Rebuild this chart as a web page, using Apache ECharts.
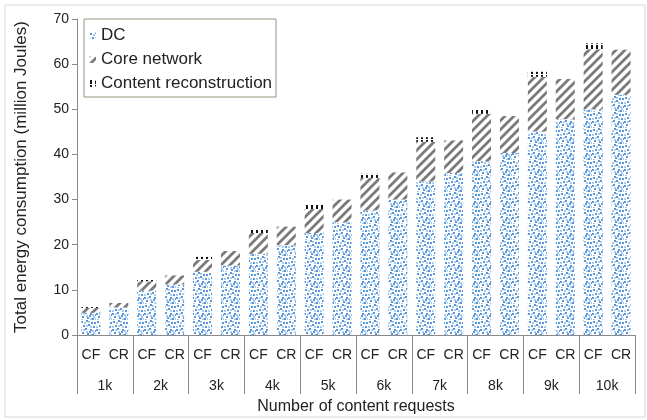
<!DOCTYPE html>
<html>
<head>
<meta charset="utf-8">
<script src="https://cdn.jsdelivr.net/npm/echarts@6/dist/echarts.min.js"></script>
<style>
  html, body { margin: 0; padding: 0; background: #fff; }
  #chart { width: 647px; height: 420px; }
</style>
</head>
<body>
<div id="chart"></div>
<script>
// Request volumes and the two schemes compared in each group
const groups = ['1k', '2k', '3k', '4k', '5k', '6k', '7k', '8k', '9k', '10k'];
const schemes = ['CF', 'CR'];

// Energy per component (million Joules)
const dcCF = [4.9, 9.8, 14.0, 18.0, 22.6, 27.6, 34.0, 38.5, 45.1, 50.0];
const dcCR = [6.1, 11.2, 15.4, 19.9, 25.0, 30.0, 35.9, 40.3, 47.8, 53.2];
const coreCF = [1.1, 2.1, 2.6, 4.6, 5.3, 7.2, 8.8, 10.5, 12.1, 13.3];
const coreCR = [1.0, 2.0, 3.2, 4.1, 5.0, 6.0, 7.2, 8.2, 8.9, 10.0];
const reconCF = [0.2, 0.4, 0.7, 0.9, 1.0, 0.9, 1.0, 1.0, 1.1, 1.3];
const reconCR = [0, 0, 0, 0, 0, 0, 0, 0, 0, 0];

const yTicks = { min: 0, max: 70, step: 10 };

// Interleave CF / CR per group
function interleave(a, b) {
  const out = [];
  for (let i = 0; i < a.length; i++) { out.push(a[i], b[i]); }
  return out;
}
const barLabels = groups.flatMap(() => schemes);

// Fill textures
function makeTile(w, h, draw) {
  const c = document.createElement('canvas');
  c.width = w; c.height = h;
  const ctx = c.getContext('2d');
  ctx.fillStyle = '#ffffff';
  ctx.fillRect(0, 0, w, h);
  draw(ctx);
  return c;
}

const dotTile = makeTile(16, 16, ctx => {
  const dark = [[1,1],[6,0],[11,2],[3,5],[8,4],[13,6],[0,9],[5,8],[10,9],[15,10],[2,12],[7,13],[12,14],[9,11],[14,2]];
  const light = [[4,2],[12,10],[6,11],[1,15],[10,6],[15,14],[8,1],[3,9],[13,12],[6,5],[0,6],[10,14]];
  ctx.fillStyle = 'rgba(140,185,232,0.75)';
  light.forEach(p => ctx.fillRect(p[0], p[1], 2, 2));
  ctx.fillStyle = 'rgba(70,140,218,0.9)';
  dark.forEach(p => ctx.fillRect(p[0], p[1], 2, 2));
});

const hatchTile = makeTile(9, 9, ctx => {
  ctx.strokeStyle = '#7a7a7a';
  ctx.lineWidth = 2.8;
  ctx.beginPath();
  ctx.moveTo(-1, 10); ctx.lineTo(10, -1);
  ctx.moveTo(-2, 2); ctx.lineTo(2, -2);
  ctx.moveTo(7, 11); ctx.lineTo(11, 7);
  ctx.stroke();
});

const dashTile = makeTile(5, 5, ctx => {
  ctx.fillStyle = '#111111';
  ctx.fillRect(1, 0, 2, 4);
});

const dcFill = { image: dotTile, repeat: 'repeat' };
const coreFill = { image: hatchTile, repeat: 'repeat' };
const reconFill = { image: dashTile, repeat: 'repeat' };

const axisGray = '#8a8a8a';
const textDark = '#222222';
const font = '"Liberation Sans", Arial, sans-serif';

const chart = echarts.init(document.getElementById('chart'), null, { renderer: 'canvas' });

chart.setOption({
  animation: false,
  backgroundColor: '#ffffff',
  textStyle: { fontFamily: font },
  graphic: [{
    type: 'rect',
    shape: { x: 5, y: 5, width: 640, height: 412 },
    style: { fill: 'none', stroke: '#d6d6d6', lineWidth: 1 },
    silent: true,
    z: -1
  }],
  grid: { left: 77, right: 12, top: 19, bottom: 84 },
  legend: {
    orient: 'vertical',
    left: 84,
    top: 19,
    padding: [8, 4, 5, 5],
    itemGap: 7,
    itemWidth: 7,
    itemHeight: 7,
    borderColor: '#8d9a7e',
    borderWidth: 1,
    backgroundColor: '#ffffff',
    textStyle: { fontSize: 17, color: textDark, fontFamily: font },
    data: ['DC', 'Core network', 'Content reconstruction']
  },
  xAxis: [{
    type: 'category',
    data: barLabels,
    axisTick: { show: false },
    axisLine: { show: true, lineStyle: { color: axisGray, width: 1 } },
    axisLabel: { interval: 0, margin: 13, fontSize: 14, color: textDark, fontFamily: font }
  }, {
    type: 'category',
    data: groups,
    position: 'bottom',
    axisLine: { show: false },
    axisTick: { show: true, interval: 0, length: 59, lineStyle: { color: axisGray, width: 1 } },
    axisLabel: { interval: 0, margin: 44, fontSize: 14, color: textDark, fontFamily: font },
    name: 'Number of content requests',
    nameLocation: 'middle',
    nameGap: 64,
    nameTextStyle: { fontSize: 16, color: textDark, fontFamily: font }
  }],
  yAxis: {
    type: 'value',
    min: yTicks.min,
    max: yTicks.max,
    interval: yTicks.step,
    splitLine: { show: false },
    axisLine: { show: true, lineStyle: { color: axisGray, width: 1 } },
    axisTick: { show: true, length: 5, lineStyle: { color: axisGray } },
    axisLabel: { fontSize: 14, color: textDark, margin: 8, fontFamily: font },
    name: 'Total energy consumption (million Joules)',
    nameLocation: 'middle',
    nameGap: 47,
    nameTextStyle: { fontSize: 17, color: textDark, fontFamily: font }
  },
  series: [{
    name: 'DC',
    type: 'bar',
    stack: 'energy',
    xAxisIndex: 0,
    barWidth: 19,
    itemStyle: { color: dcFill },
    data: interleave(dcCF, dcCR)
  }, {
    name: 'Core network',
    type: 'bar',
    stack: 'energy',
    xAxisIndex: 0,
    barWidth: 19,
    itemStyle: { color: coreFill },
    data: interleave(coreCF, coreCR)
  }, {
    name: 'Content reconstruction',
    type: 'bar',
    stack: 'energy',
    xAxisIndex: 0,
    barWidth: 19,
    itemStyle: { color: reconFill },
    data: interleave(reconCF, reconCR)
  }]
});
</script>
</body>
</html>
